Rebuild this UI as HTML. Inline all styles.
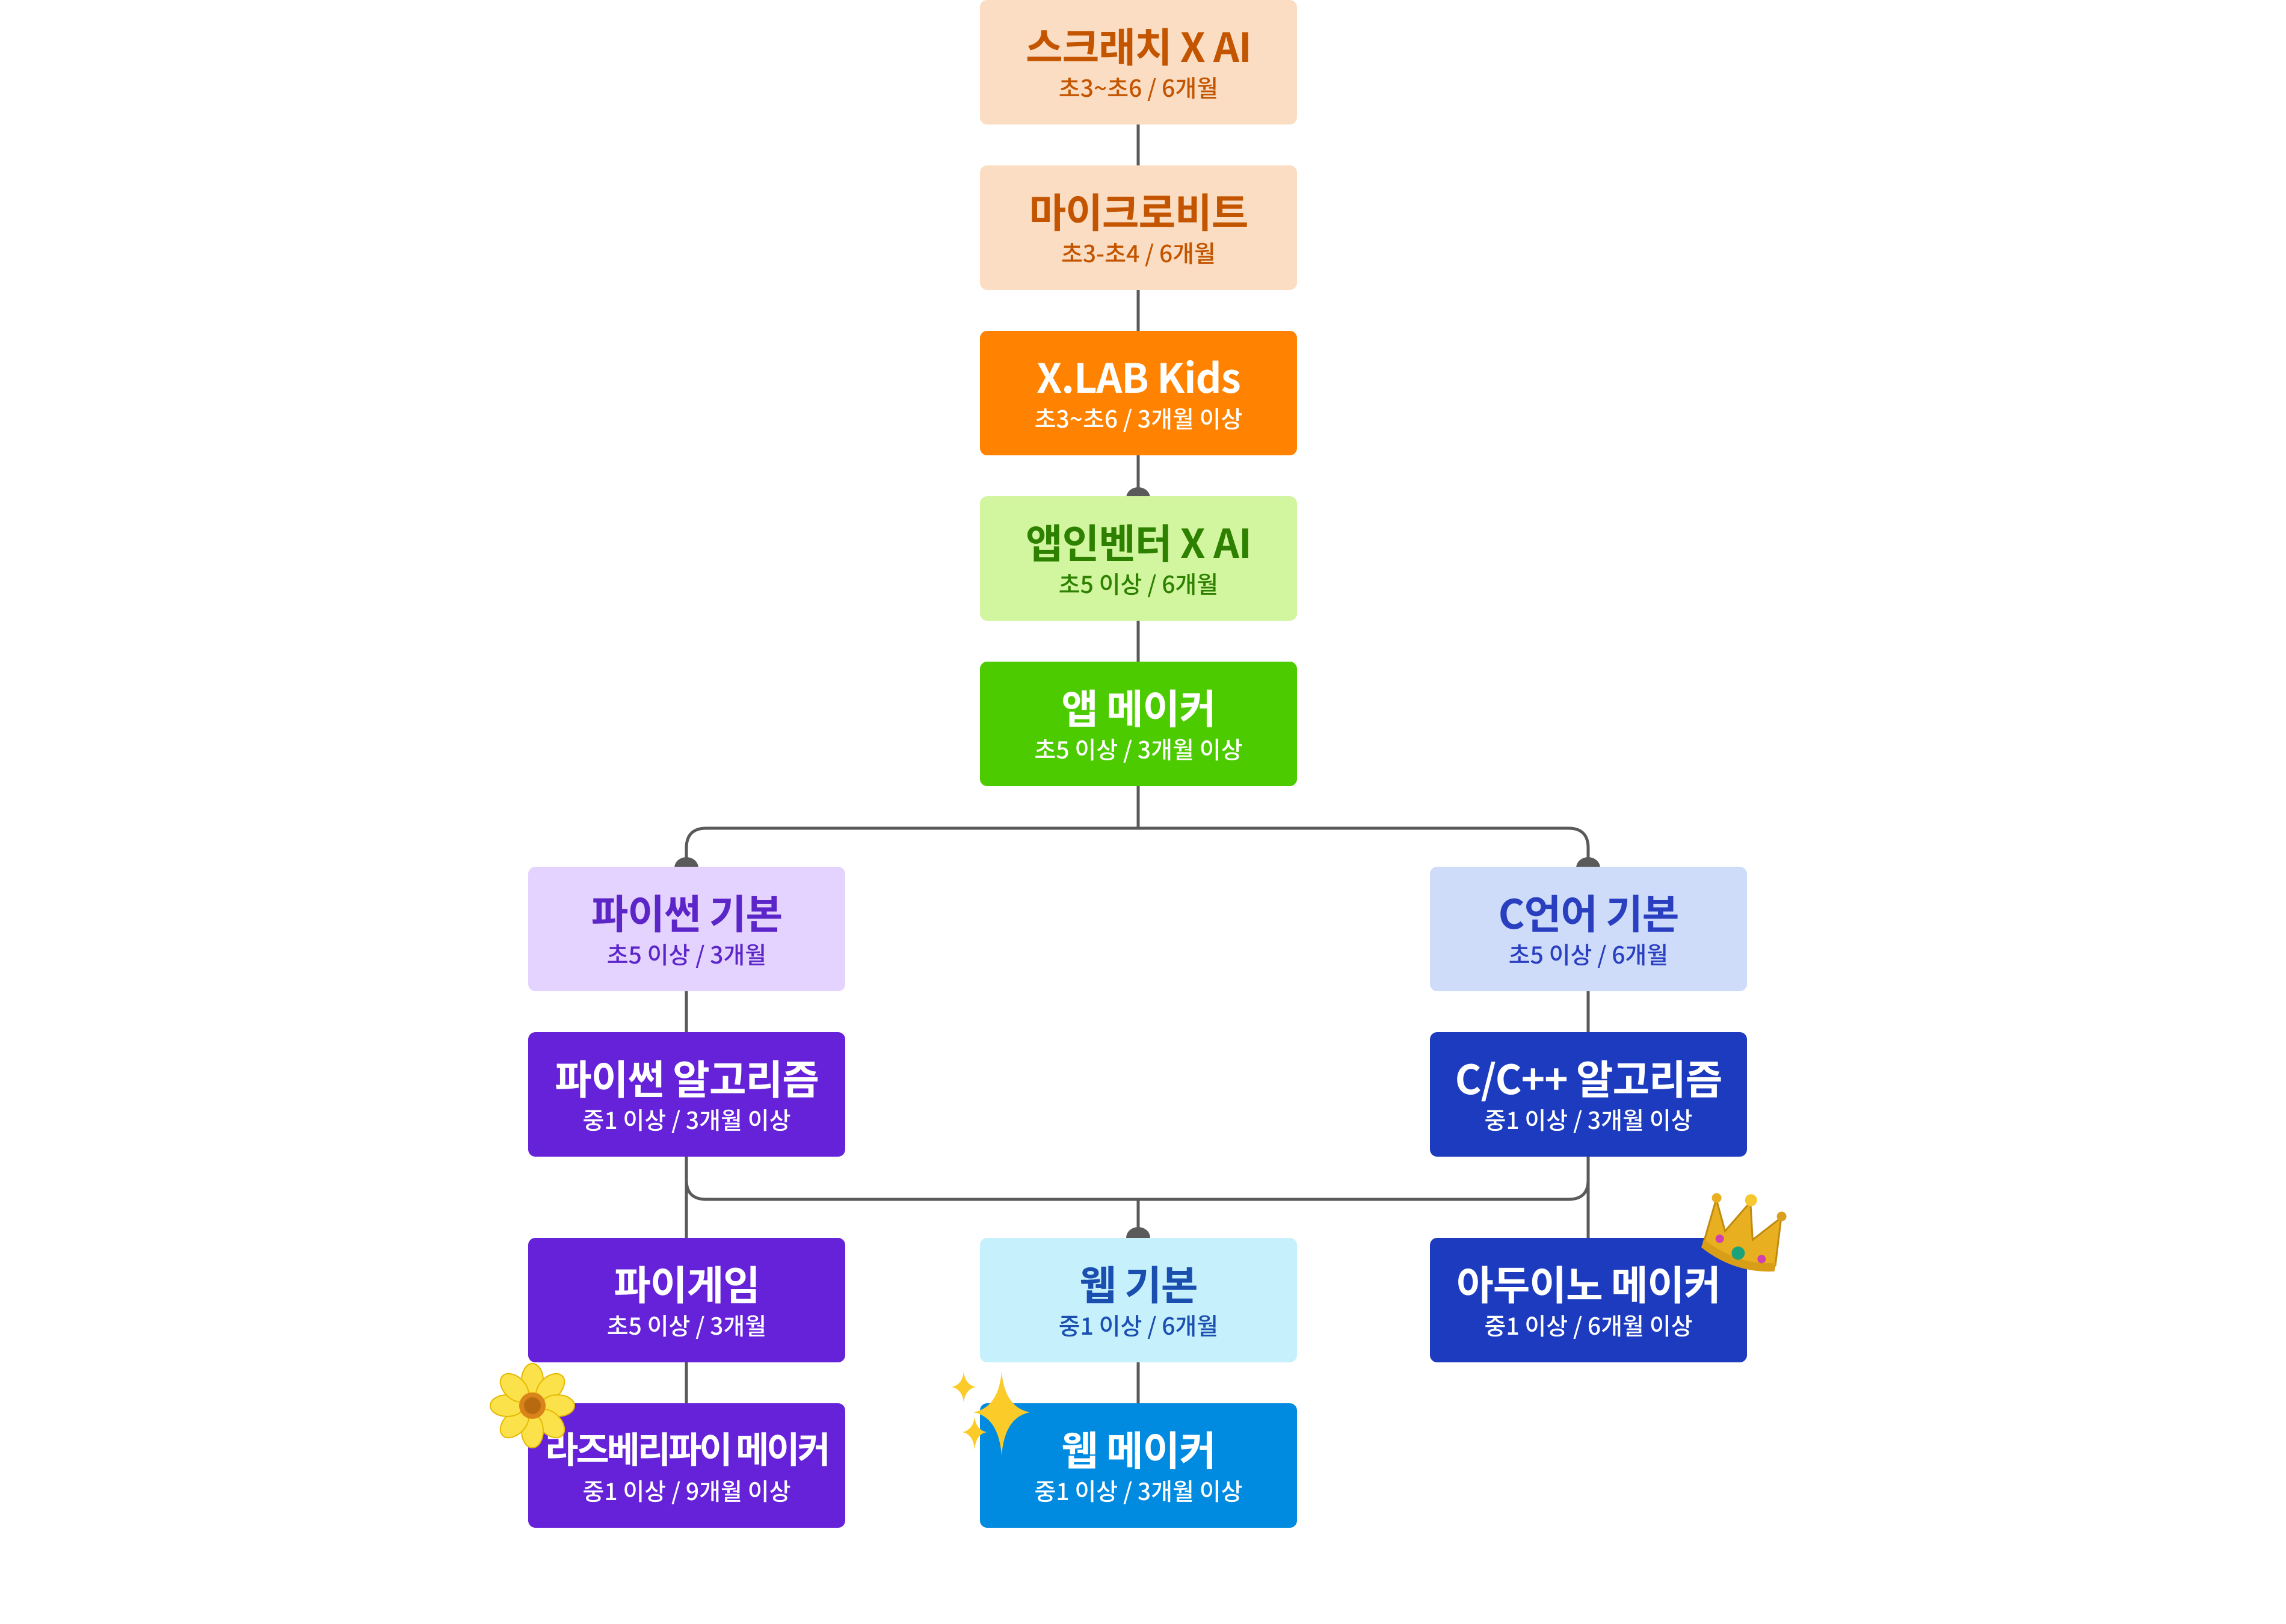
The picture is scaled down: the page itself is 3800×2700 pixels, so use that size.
<!DOCTYPE html>
<html><head><meta charset="utf-8">
<style>
html,body{margin:0;padding:0;background:#fff;}
body{width:3800px;height:2700px;position:relative;overflow:hidden;font-family:"Noto Sans CJK KR","Liberation Sans",sans-serif;}
.b{position:absolute;width:527px;height:207px;border-radius:12px;text-align:center;box-sizing:border-box;white-space:nowrap;}
.t{position:absolute;left:0;right:0;top:41px;font-size:67px;font-weight:bold;line-height:1;letter-spacing:-1px;}
.s{position:absolute;left:0;right:0;top:126px;font-size:39px;font-weight:500;line-height:1;}
svg{position:absolute;left:0;top:0;}
</style></head><body>
<svg width="3800" height="2700">
<g stroke="#5a5a5a" stroke-width="5" fill="none">
<line x1="1892" y1="200" x2="1892" y2="280"/>
<line x1="1892" y1="480" x2="1892" y2="555"/>
<line x1="1892" y1="755" x2="1892" y2="830"/>
<line x1="1892" y1="1030" x2="1892" y2="1105"/>
<line x1="1892" y1="1300" x2="1892" y2="1377"/>
<path d="M1141 1441 V1410 Q1141 1377 1174 1377 H2607 Q2640 1377 2640 1410 V1441"/>
<line x1="1141" y1="1645" x2="1141" y2="1720"/>
<line x1="2640" y1="1645" x2="2640" y2="1720"/>
<path d="M1141 1920 V1962 Q1141 1994 1174 1994 H2607 Q2640 1994 2640 1962 V1920"/>
<line x1="1141" y1="1920" x2="1141" y2="2060"/>
<line x1="2640" y1="1920" x2="2640" y2="2060"/>
<line x1="1892" y1="1994" x2="1892" y2="2060"/>
<line x1="1141" y1="2260" x2="1141" y2="2335"/>
<line x1="1892" y1="2260" x2="1892" y2="2335"/>
</g>
<g fill="#5a5a5a">
<path d="M1872 828 A20 18 0 0 1 1912 828 Z"/>
<path d="M1121 1443 A20 18 0 0 1 1161 1443 Z"/>
<path d="M2620 1443 A20 18 0 0 1 2660 1443 Z"/>
<path d="M1872 2058 A20 18 0 0 1 1912 2058 Z"/>
</g>
</svg>

<div class="b" style="left:1629px;top:0;background:#FADDC2;color:#C45500"><div class="t">스크래치 X AI</div><div class="s">초3~초6 / 6개월</div></div>
<div class="b" style="left:1629px;top:275px;background:#FADDC2;color:#C45500"><div class="t">마이크로비트</div><div class="s">초3-초4 / 6개월</div></div>
<div class="b" style="left:1629px;top:550px;background:#FF8200;color:#fff"><div class="t">X.LAB Kids</div><div class="s">초3~초6 / 3개월 이상</div></div>
<div class="b" style="left:1629px;top:825px;background:#D2F5A0;color:#2E8000"><div class="t">앱인벤터 X AI</div><div class="s">초5 이상 / 6개월</div></div>
<div class="b" style="left:1629px;top:1100px;background:#4CCB00;color:#fff"><div class="t">앱 메이커</div><div class="s">초5 이상 / 3개월 이상</div></div>

<div class="b" style="left:878px;top:1441px;background:#E5D3FF;color:#5B25C8"><div class="t">파이썬 기본</div><div class="s">초5 이상 / 3개월</div></div>
<div class="b" style="left:878px;top:1716px;background:#6622D8;color:#fff"><div class="t">파이썬 알고리즘</div><div class="s">중1 이상 / 3개월 이상</div></div>
<div class="b" style="left:878px;top:2058px;background:#6622D8;color:#fff"><div class="t">파이게임</div><div class="s">초5 이상 / 3개월</div></div>
<div class="b" style="left:878px;top:2333px;background:#6622D8;color:#fff"><div class="t" style="font-size:60px;letter-spacing:-4px;top:44px">라즈베리파이 메이커</div><div class="s">중1 이상 / 9개월 이상</div></div>

<div class="b" style="left:1629px;top:2058px;background:#C5F0FC;color:#1A4FB0"><div class="t">웹 기본</div><div class="s">중1 이상 / 6개월</div></div>
<div class="b" style="left:1629px;top:2333px;background:#008AE0;color:#fff"><div class="t">웹 메이커</div><div class="s">중1 이상 / 3개월 이상</div></div>

<div class="b" style="left:2377px;top:1441px;background:#CEDCFA;color:#2A3FC0"><div class="t">C언어 기본</div><div class="s">초5 이상 / 6개월</div></div>
<div class="b" style="left:2377px;top:1716px;background:#1C3BBF;color:#fff"><div class="t">C/C++ 알고리즘</div><div class="s">중1 이상 / 3개월 이상</div></div>
<div class="b" style="left:2377px;top:2058px;background:#1C3BBF;color:#fff"><div class="t">아두이노 메이커</div><div class="s">중1 이상 / 6개월 이상</div></div>

<svg width="3800" height="2700" style="pointer-events:none">
<g transform="translate(2905 2055) rotate(20)">
<path d="M-65 35 L-70 -40 L-38 5 L-15 -55 L10 3 L42 -48 L60 30 Q0 55 -65 35 Z" fill="#E8B020" stroke="#C08A10" stroke-width="3"/>
<circle cx="-70" cy="-42" r="8" fill="#E8B020"/><circle cx="-15" cy="-58" r="10" fill="#F5C830"/><circle cx="42" cy="-50" r="8" fill="#D9A020"/>
<path d="M-66 30 Q0 52 60 26 L62 40 Q0 66 -66 44 Z" fill="#D89E18"/>
<circle cx="-5" cy="32" r="11" fill="#1AA27A"/><circle cx="-42" cy="20" r="7" fill="#D040B0"/><circle cx="35" cy="28" r="7" fill="#D040B0"/>
</g>
<g transform="translate(885 2337)">
<g fill="#FBE24A" stroke="#E6B800" stroke-width="2">
<ellipse cx="0" cy="-42" rx="18" ry="28"/>
<ellipse cx="0" cy="-42" rx="18" ry="28" transform="rotate(45)"/>
<ellipse cx="0" cy="-42" rx="18" ry="28" transform="rotate(90)"/>
<ellipse cx="0" cy="-42" rx="18" ry="28" transform="rotate(135)"/>
<ellipse cx="0" cy="-42" rx="18" ry="28" transform="rotate(180)"/>
<ellipse cx="0" cy="-42" rx="18" ry="28" transform="rotate(225)"/>
<ellipse cx="0" cy="-42" rx="18" ry="28" transform="rotate(270)"/>
<ellipse cx="0" cy="-42" rx="18" ry="28" transform="rotate(315)"/>
</g>
<circle r="22" fill="#D9841A"/><circle r="14" fill="#B86A10"/>
</g>
<g fill="#FBCB2A">
<path d="M1665 2280 Q1670 2340 1712 2348 Q1670 2356 1665 2420 Q1660 2356 1618 2348 Q1660 2340 1665 2280 Z"/>
<path d="M1602 2280 Q1604 2302 1622 2306 Q1604 2310 1602 2332 Q1600 2310 1582 2306 Q1600 2302 1602 2280 Z"/>
<path d="M1620 2355 Q1622 2377 1640 2381 Q1622 2385 1620 2410 Q1618 2385 1600 2381 Q1618 2377 1620 2355 Z"/>
</g>
</svg>
</body></html>
